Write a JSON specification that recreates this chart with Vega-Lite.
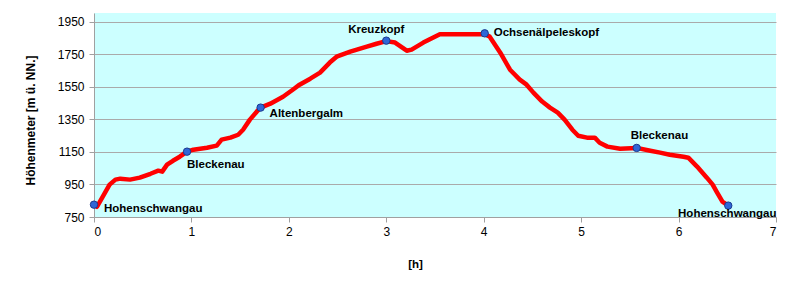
{
  "$schema": "https://vega.github.io/schema/vega-lite/v6.json",
  "width": 682,
  "height": 204,
  "autosize": {"type": "none"},
  "padding": {"left": 94, "top": 13, "right": 22, "bottom": 64},
  "background": "white",
  "config": {
    "view": {"fill": "#CCFFFF", "stroke": null},
    "font": "Liberation Sans"
  },
  "datasets": {
    "track": [
      {"t": 0.0, "h": 826}, {"t": 0.03, "h": 813}, {"t": 0.09, "h": 875}, {"t": 0.16, "h": 949},
      {"t": 0.22, "h": 980}, {"t": 0.27, "h": 986}, {"t": 0.37, "h": 980}, {"t": 0.47, "h": 992},
      {"t": 0.58, "h": 1016}, {"t": 0.66, "h": 1035}, {"t": 0.70, "h": 1029}, {"t": 0.75, "h": 1072},
      {"t": 0.81, "h": 1096}, {"t": 0.88, "h": 1121}, {"t": 0.955, "h": 1152}, {"t": 1.02, "h": 1164},
      {"t": 1.16, "h": 1176}, {"t": 1.26, "h": 1189}, {"t": 1.31, "h": 1226}, {"t": 1.40, "h": 1238},
      {"t": 1.48, "h": 1256}, {"t": 1.53, "h": 1287}, {"t": 1.60, "h": 1349}, {"t": 1.67, "h": 1398},
      {"t": 1.71, "h": 1423}, {"t": 1.81, "h": 1447}, {"t": 1.94, "h": 1490}, {"t": 2.04, "h": 1533},
      {"t": 2.11, "h": 1564}, {"t": 2.22, "h": 1601}, {"t": 2.32, "h": 1638}, {"t": 2.42, "h": 1700},
      {"t": 2.49, "h": 1736}, {"t": 2.63, "h": 1767}, {"t": 2.80, "h": 1798}, {"t": 2.90, "h": 1816},
      {"t": 3.0, "h": 1832}, {"t": 3.09, "h": 1823}, {"t": 3.21, "h": 1773}, {"t": 3.26, "h": 1780},
      {"t": 3.38, "h": 1823}, {"t": 3.55, "h": 1875}, {"t": 4.01, "h": 1875}, {"t": 4.06, "h": 1860},
      {"t": 4.17, "h": 1761}, {"t": 4.27, "h": 1656}, {"t": 4.37, "h": 1595}, {"t": 4.44, "h": 1564},
      {"t": 4.51, "h": 1515}, {"t": 4.60, "h": 1460}, {"t": 4.68, "h": 1423}, {"t": 4.76, "h": 1392},
      {"t": 4.83, "h": 1349}, {"t": 4.91, "h": 1287}, {"t": 4.97, "h": 1250}, {"t": 5.06, "h": 1238},
      {"t": 5.14, "h": 1238}, {"t": 5.19, "h": 1207}, {"t": 5.27, "h": 1183}, {"t": 5.40, "h": 1170},
      {"t": 5.57, "h": 1175}, {"t": 5.71, "h": 1158}, {"t": 5.81, "h": 1146}, {"t": 5.91, "h": 1133},
      {"t": 6.05, "h": 1121}, {"t": 6.10, "h": 1115}, {"t": 6.19, "h": 1060}, {"t": 6.29, "h": 992},
      {"t": 6.35, "h": 949}, {"t": 6.39, "h": 906}, {"t": 6.45, "h": 844}, {"t": 6.51, "h": 820}
    ],
    "places": [
      {"id": 1, "name": "Hohenschwangau", "t": 0.0, "h": 826},
      {"id": 2, "name": "Bleckenau", "t": 0.955, "h": 1152},
      {"id": 3, "name": "Altenbergalm", "t": 1.71, "h": 1423},
      {"id": 4, "name": "Kreuzkopf", "t": 3.0, "h": 1835},
      {"id": 5, "name": "Ochsenälpeleskopf", "t": 4.01, "h": 1880},
      {"id": 6, "name": "Bleckenau", "t": 5.57, "h": 1175},
      {"id": 7, "name": "Hohenschwangau", "t": 6.51, "h": 820}
    ]
  },
  "encoding": {
    "x": {
      "field": "t", "type": "quantitative",
      "scale": {"domain": [0, 7], "nice": false, "zero": false},
      "axis": {
        "values": [0, 1, 2, 3, 4, 5, 6, 7], "format": "d", "grid": false,
        "domainColor": "#A0A0A0", "tickColor": "#A0A0A0", "tickSize": 5,
        "labelFontSize": 12, "labelColor": "black", "labelPadding": 4, "labelFont": "Liberation Sans",
        "title": "[h]", "titleFontSize": 11.5, "titleFontWeight": "bold", "titleColor": "black",
        "titleFont": "Liberation Sans", "titleX": 321, "titleY": 47, "titleBaseline": "middle", "titleAlign": "center"
      }
    },
    "y": {
      "field": "h", "type": "quantitative",
      "scale": {"domain": [750, 2005], "nice": false, "zero": false},
      "axis": {
        "values": [750, 950, 1150, 1350, 1550, 1750, 1950], "format": "d",
        "grid": true, "gridColor": "#AAAAAA", "gridWidth": 1,
        "domainColor": "#A0A0A0", "tickColor": "#A0A0A0", "tickSize": 5,
        "labelFontSize": 12, "labelColor": "black", "labelPadding": 5, "labelFont": "Liberation Sans",
        "title": "Höhenmeter [m ü. NN.]", "titleFontSize": 12, "titleFontWeight": "bold", "titleColor": "black",
        "titleFont": "Liberation Sans", "titleX": -64, "titleY": 107, "titleBaseline": "middle", "titleAlign": "center"
      }
    }
  },
  "layer": [
    {
      "data": {"name": "track"},
      "mark": {"type": "line", "color": "#FF0000", "strokeWidth": 4.5, "strokeJoin": "round", "strokeCap": "round"}
    },
    {
      "data": {"name": "places"},
      "mark": {"type": "point", "filled": true, "shape": "circle", "size": 55, "fill": "#2F66D6", "stroke": "#1A3A8F", "strokeWidth": 1, "opacity": 1}
    },
    {
      "data": {"name": "places"},
      "transform": [{"filter": "datum.id == 1"}],
      "mark": {"type": "text", "align": "left", "baseline": "middle", "dx": 10, "dy": 4, "fontSize": 11.5, "fontWeight": "bold", "color": "black"},
      "encoding": {"text": {"field": "name"}}
    },
    {
      "data": {"name": "places"},
      "transform": [{"filter": "datum.id == 2"}],
      "mark": {"type": "text", "align": "left", "baseline": "middle", "dx": 0, "dy": 13, "fontSize": 11.5, "fontWeight": "bold", "color": "black"},
      "encoding": {"text": {"field": "name"}}
    },
    {
      "data": {"name": "places"},
      "transform": [{"filter": "datum.id == 3"}],
      "mark": {"type": "text", "align": "left", "baseline": "middle", "dx": 9, "dy": 6, "fontSize": 11.5, "fontWeight": "bold", "color": "black"},
      "encoding": {"text": {"field": "name"}}
    },
    {
      "data": {"name": "places"},
      "transform": [{"filter": "datum.id == 4"}],
      "mark": {"type": "text", "align": "center", "baseline": "middle", "dx": -10, "dy": -11, "fontSize": 11.5, "fontWeight": "bold", "color": "black"},
      "encoding": {"text": {"field": "name"}}
    },
    {
      "data": {"name": "places"},
      "transform": [{"filter": "datum.id == 5"}],
      "mark": {"type": "text", "align": "left", "baseline": "middle", "dx": 9, "dy": 0, "fontSize": 11.5, "fontWeight": "bold", "color": "black"},
      "encoding": {"text": {"field": "name"}}
    },
    {
      "data": {"name": "places"},
      "transform": [{"filter": "datum.id == 6"}],
      "mark": {"type": "text", "align": "left", "baseline": "middle", "dx": -6, "dy": -12, "fontSize": 11.5, "fontWeight": "bold", "color": "black"},
      "encoding": {"text": {"field": "name"}}
    },
    {
      "data": {"name": "places"},
      "transform": [{"filter": "datum.id == 7"}],
      "mark": {"type": "text", "align": "center", "baseline": "middle", "dx": -1, "dy": 8, "fontSize": 11.5, "fontWeight": "bold", "color": "black"},
      "encoding": {"text": {"field": "name"}}
    }
  ]
}
